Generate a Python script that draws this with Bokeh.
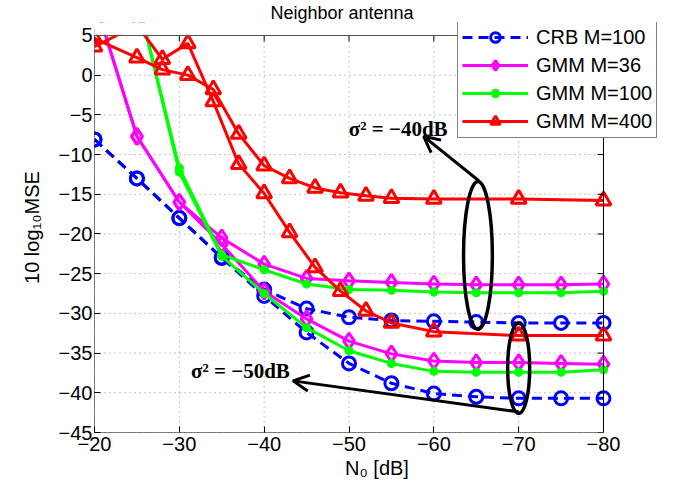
from bokeh.plotting import figure
from bokeh.models import (Range1d, Legend, LegendItem, Arrow, OpenHead, Label, FixedTicker,
                          BoxAnnotation)
from bokeh.embed import file_html
from bokeh.resources import INLINE

# ---------------- data ----------------
n0_5 = [-20, -25, -30, -35, -40, -45, -50, -55, -60, -65, -70, -75, -80]
n0_red = [-20, -25, -28, -31, -34, -37, -40, -43, -46, -49, -52, -55, -60, -70, -80]

crb_40 = [-8.1, -13.0, -18.0, -23.0, -27.0, -29.4, -30.5, -30.9, -31.0, -31.1, -31.2, -31.2, -31.2]
crb_50 = [-8.1, -13.0, -18.0, -23.0, -27.8, -32.4, -36.3, -38.8, -40.1, -40.5, -40.7, -40.7, -40.7]

gmm36_40 = [9.5, -7.7, -16.0, -20.5, -23.8, -25.6, -25.9, -26.1, -26.3, -26.4, -26.4, -26.4, -26.3]
gmm36_50 = [9.5, -7.7, -16.0, -21.3, -27.2, -30.7, -33.5, -35.1, -36.0, -36.2, -36.2, -36.3, -36.4]

gmm100_40 = [22.0, 10.0, -11.7, -22.6, -24.5, -26.3, -27.0, -27.1, -27.3, -27.4, -27.4, -27.4, -27.2]
gmm100_50 = [22.0, 10.0, -12.2, -22.8, -27.5, -31.8, -34.7, -36.3, -37.3, -37.4, -37.4, -37.4, -37.1]

gmm400_40 = [4.6, 2.2, 0.7, 0.0, -1.8, -7.4, -11.4, -13.0, -14.2, -14.8, -15.2, -15.5, -15.6, -15.6, -15.8]
gmm400_50 = [3.6, 6.3, 2.0, 4.0, -3.3, -11.2, -14.9, -19.8, -24.2, -27.2, -29.7, -31.2, -32.3, -32.8, -32.8]

x_ticks = [-20, -30, -40, -50, -60, -70, -80]
x_tick_labels = ["\u221220", "\u221230", "\u221240", "\u221250", "\u221260", "\u221270", "\u221280"]
y_ticks = [5, 0, -5, -10, -15, -20, -25, -30, -35, -40, -45]
y_tick_labels = ["5", "0", "\u22125", "\u221210", "\u221215", "\u221220", "\u221225",
                 "\u221230", "\u221235", "\u221240", "\u221245"]

labels = ["CRB M=100", "GMM M=36", "GMM M=100", "GMM M=400"]

# axes box limits (data space)
X0, X1 = x_ticks[0], x_ticks[-1]
Y0, Y1 = y_ticks[-1], y_ticks[0]

FONT = "Liberation Sans"

# The drawing frame is larger than the axes box (to the right and above) so that the
# legend, which overlaps the box edge as in the reference, is not clipped.
p = figure(width=670, height=489, output_backend="svg", toolbar_location=None,
           x_range=Range1d(-20, -86.6), y_range=Range1d(-45, 6.63),
           min_border_left=94, min_border_right=11, min_border_top=21, min_border_bottom=57,
           title="Neighbor antenna")
p.title.align = "left"
p.title.offset = 176
p.title.text_font = FONT
p.title.text_font_size = "18px"
p.title.text_font_style = "normal"
p.title.text_color = "black"
p.title.standoff = 0

p.background_fill_color = "white"
p.border_fill_color = "white"
p.outline_line_color = None

# axes
xt = FixedTicker(ticks=x_ticks)
yt = FixedTicker(ticks=y_ticks)
p.xaxis.ticker = xt
p.yaxis.ticker = yt
p.xaxis.major_label_overrides = dict(zip(x_ticks, x_tick_labels))
p.yaxis.major_label_overrides = dict(zip(y_ticks, y_tick_labels))
for ax in (p.xaxis[0], p.yaxis[0]):
    ax.major_tick_in = 6
    ax.major_tick_out = 0
    ax.minor_tick_line_color = None
    ax.axis_line_color = None
    ax.major_tick_line_color = "black"
    ax.major_label_text_font = FONT
    ax.major_label_text_font_size = "20px"
    ax.major_label_text_color = "black"
    ax.axis_label_text_font = FONT
    ax.axis_label_text_font_size = "20px"
    ax.axis_label_text_font_style = "normal"
    ax.axis_label_text_color = "black"
p.xaxis.axis_label = "N\u2080 [dB]"
p.yaxis.axis_label = "10 log\u2081\u2080MSE"
p.xaxis.major_label_standoff = 4
p.yaxis.major_label_standoff = 2
p.xaxis.axis_label_standoff = 3
p.yaxis.axis_label_standoff = 13

p.xgrid.visible = False
p.ygrid.visible = False

# dotted grid limited to the axes box
p.segment(x0=x_ticks, y0=[Y0] * len(x_ticks), x1=x_ticks, y1=[Y1] * len(x_ticks),
          line_color="#8a8a8a", line_width=1, line_dash="1 4", level="underlay")
p.segment(x0=[X0] * len(y_ticks), y0=y_ticks, x1=[X1] * len(y_ticks), y1=y_ticks,
          line_color="#8a8a8a", line_width=1, line_dash="1 4", level="underlay")

BLUE, MAG, GRN, RED = "#0000ff", "#ff00ff", "#00ff00", "#ff0000"


def series(x, y, color, marker, size, dash="solid", mlw=3):
    l = p.line(x, y, line_color=color, line_width=3, line_dash=dash)
    s = p.scatter(x, y, marker=marker, size=size, line_color=color, line_width=mlw,
                  fill_alpha=0)
    return [l, s]


r_crb = series(n0_5, crb_40, BLUE, "circle", 13, "10 6")
series(n0_5, crb_50, BLUE, "circle", 13, "10 6")
r_36 = series(n0_5, gmm36_40, MAG, "diamond", 16)
series(n0_5, gmm36_50, MAG, "diamond", 16)
r_100 = series(n0_5, gmm100_40, GRN, "asterisk", 9, mlw=3)
series(n0_5, gmm100_50, GRN, "asterisk", 9, mlw=3)
r_400 = series(n0_red, gmm400_40, RED, "triangle", 15)
series(n0_red, gmm400_50, RED, "triangle", 15)

# white mask above the axes box (curves are clipped at the top of the box)
p.add_layout(BoxAnnotation(bottom=Y1 + 0.08, fill_color="white", fill_alpha=1,
                           line_color="white", line_width=3))

# axes box and inner ticks on top / right
p.line([X0, X1, X1, X0, X0], [Y0, Y0, Y1, Y1, Y0], line_color="black", line_width=1)
p.segment(x0=x_ticks, y0=[Y1] * len(x_ticks), x1=x_ticks, y1=[Y1 - 0.75] * len(x_ticks),
          line_color="black", line_width=1)
p.segment(x0=[X1] * len(y_ticks), y0=y_ticks, x1=[X1 + 0.71] * len(y_ticks), y1=y_ticks,
          line_color="black", line_width=1)

# annotations: ellipses, arrows, texts
p.ellipse(x=[-65.2], y=[-22.7], width=[3.4], height=[18.6], fill_alpha=0,
          line_color="black", line_width=3.5)
p.ellipse(x=[-70.0], y=[-36.9], width=[2.6], height=[11.4], fill_alpha=0,
          line_color="black", line_width=3.5)
p.add_layout(Arrow(x_start=-65.3, y_start=-13.3, x_end=-58.8, y_end=-7.7,
                   line_color="black", line_width=3,
                   end=OpenHead(size=16, line_width=3, line_color="black")))
p.add_layout(Arrow(x_start=-70.0, y_start=-42.4, x_end=-43.4, y_end=-38.5,
                   line_color="black", line_width=3,
                   end=OpenHead(size=16, line_width=3, line_color="black")))
p.add_layout(Label(x=-55.8, y=-6.8, text="\u03c3\u00b2 = \u221240dB", text_font="Liberation Serif",
                   text_font_size="21px", text_font_style="bold", text_baseline="middle",
                   text_align="center", text_color="black"))
p.add_layout(Label(x=-37.2, y=-37.2, text="\u03c3\u00b2 = \u221250dB", text_font="Liberation Serif",
                   text_font_size="21px", text_font_style="bold", text_baseline="middle",
                   text_align="center", text_color="black"))

legend = Legend(items=[LegendItem(label=labels[0], renderers=r_crb),
                       LegendItem(label=labels[1], renderers=r_36),
                       LegendItem(label=labels[2], renderers=r_100),
                       LegendItem(label=labels[3], renderers=r_400)],
                location=(363, 294))
legend.label_text_font = FONT
legend.label_text_font_size = "20px"
legend.label_text_color = "black"
legend.glyph_width = 66
legend.glyph_height = 24
legend.label_height = 24
legend.spacing = 4
legend.padding = 4
legend.margin = 0
legend.label_standoff = 8
legend.border_line_color = "black"
legend.border_line_width = 1
legend.background_fill_color = "white"
legend.background_fill_alpha = 1
p.add_layout(legend)

open("out.html", "w").write(file_html(p, INLINE))
